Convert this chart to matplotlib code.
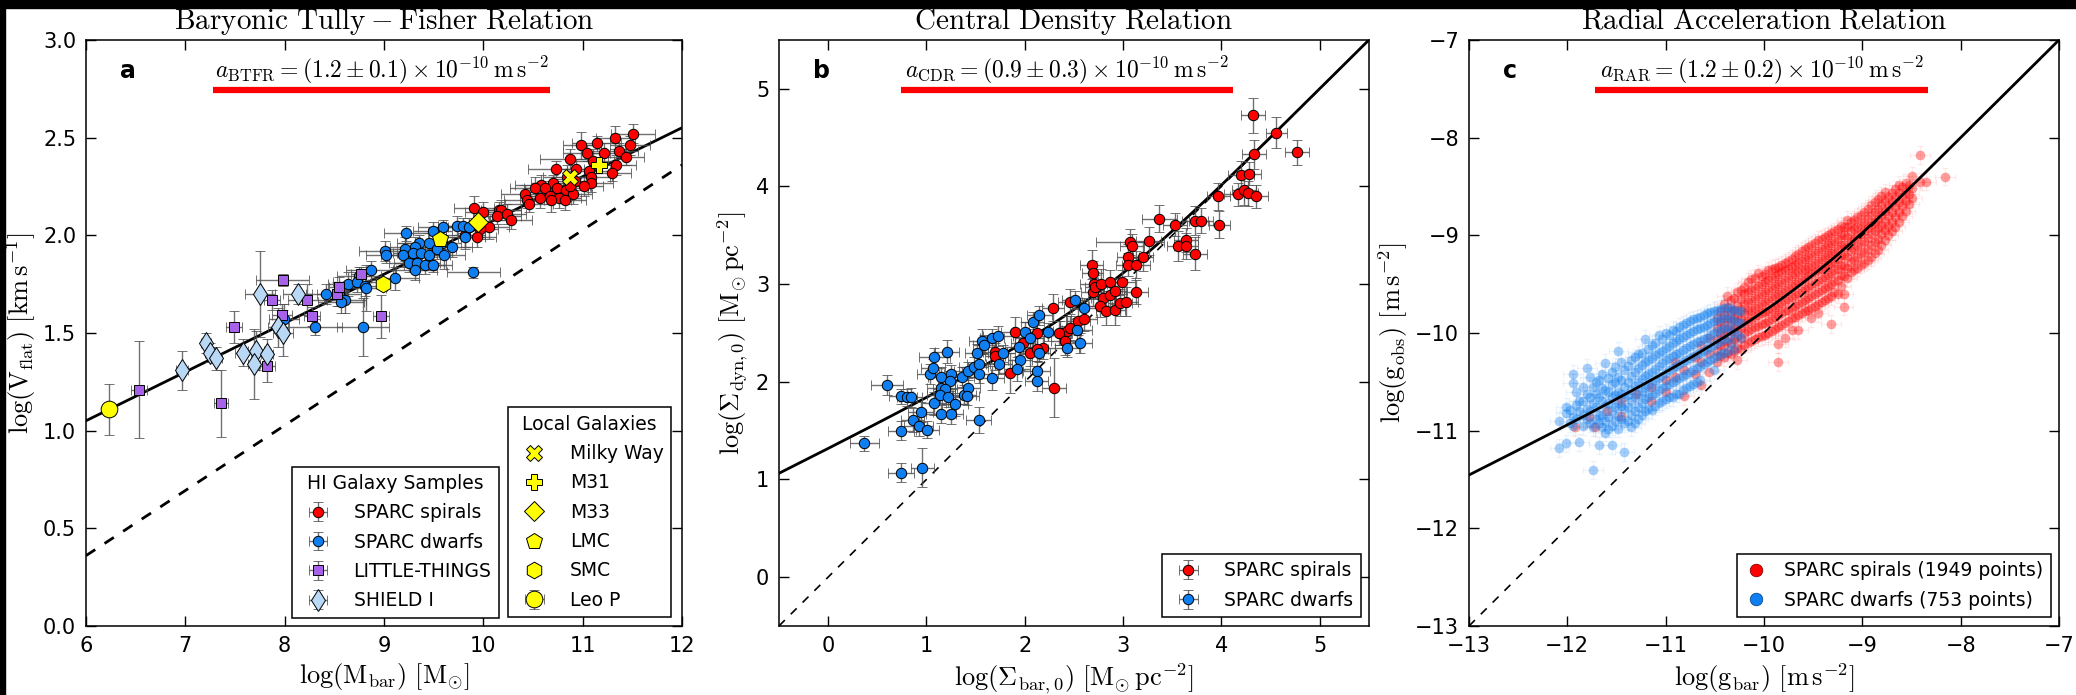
import numpy as np
import matplotlib
matplotlib.use("Agg")
import matplotlib.pyplot as plt
from matplotlib.lines import Line2D
from matplotlib.patches import Rectangle

plt.rcParams['mathtext.fontset'] = 'cm'
plt.rcParams['font.family'] = ['DejaVu Sans']
plt.rcParams['axes.unicode_minus'] = True

# ---------------- constants for the model curves ----------------
G_SI = 6.674e-11
MSUN = 1.989e30
PC = 3.0857e16
a0_btfr = 1.2e-10
a0_cdr = 0.9e-10
a0_rar = 1.2e-10

# ---------------- panel a: baryonic Tully-Fisher ----------------
spa_logm = [11.51, 11.33, 11.14, 10.98, 11.48, 11.04, 11.22, 11.37, 10.87, 11.10,
            11.44, 11.34, 10.73, 10.93, 11.06, 11.30, 10.84, 11.08, 10.92, 11.08,
            10.58, 10.70, 11.01, 10.52, 10.62, 10.74, 10.83, 10.42, 10.57, 10.67,
            10.76, 10.90, 10.44, 10.68, 10.82, 10.46, 10.87, 9.91, 10.00, 10.16,
            10.18, 10.24, 10.14, 10.28, 10.06, 9.97, 9.94, 9.82]
spa_logv = [2.52, 2.50, 2.47, 2.46, 2.46, 2.42, 2.42, 2.43, 2.39, 2.38,
            2.40, 2.36, 2.34, 2.34, 2.33, 2.32, 2.30, 2.30, 2.28, 2.27,
            2.26, 2.27, 2.25, 2.24, 2.24, 2.24, 2.23, 2.21, 2.19, 2.20,
            2.19, 2.21, 2.18, 2.18, 2.18, 2.16, 2.25, 2.14, 2.12, 2.13,
            2.13, 2.11, 2.10, 2.08, 2.04, 2.03, 1.99, 2.00]
spa_xerr = [0.22, 0.20, 0.25, 0.18, 0.20, 0.24, 0.21, 0.19, 0.30, 0.22,
            0.18, 0.20, 0.28, 0.20, 0.22, 0.19, 0.24, 0.20, 0.21, 0.23,
            0.26, 0.22, 0.20, 0.25, 0.21, 0.19, 0.22, 0.24, 0.20, 0.21,
            0.22, 0.19, 0.23, 0.20, 0.21, 0.24, 0.20, 0.20, 0.18, 0.22,
            0.20, 0.19, 0.24, 0.21, 0.20, 0.18, 0.19, 0.20]
spa_yerr = [0.05, 0.06, 0.04, 0.07, 0.05, 0.04, 0.05, 0.04, 0.05, 0.06,
            0.04, 0.05, 0.04, 0.05, 0.05, 0.04, 0.06, 0.05, 0.04, 0.05,
            0.05, 0.04, 0.05, 0.06, 0.04, 0.05, 0.04, 0.05, 0.05, 0.04,
            0.05, 0.05, 0.04, 0.06, 0.05, 0.04, 0.05, 0.06, 0.05, 0.04,
            0.05, 0.05, 0.04, 0.05, 0.06, 0.05, 0.05, 0.06]

dwa_logm = [9.22, 9.49, 9.59, 9.74, 9.80, 9.86, 9.82, 9.45, 9.58, 9.68,
            9.35, 9.31, 9.21, 9.01, 9.02, 9.19, 9.29, 9.37, 9.45, 9.53,
            9.60, 9.25, 9.33, 9.41, 9.49, 9.31, 9.90, 9.11, 8.87, 8.75,
            8.64, 8.73, 8.81, 8.82, 8.42, 8.55, 8.61, 8.57, 7.99, 8.31,
            8.79]
dwa_logv = [2.01, 2.02, 2.04, 2.05, 2.05, 2.04, 1.99, 1.96, 1.96, 1.94,
            1.96, 1.94, 1.93, 1.92, 1.90, 1.90, 1.91, 1.91, 1.90, 1.93,
            1.90, 1.86, 1.86, 1.85, 1.85, 1.82, 1.81, 1.78, 1.82, 1.79,
            1.75, 1.76, 1.74, 1.73, 1.70, 1.70, 1.67, 1.66, 1.57, 1.53,
            1.53]
dwa_xerr = [0.22, 0.20, 0.25, 0.20, 0.18, 0.22, 0.20, 0.24, 0.20, 0.21,
            0.22, 0.25, 0.20, 0.26, 0.20, 0.22, 0.20, 0.24, 0.21, 0.20,
            0.22, 0.20, 0.23, 0.21, 0.20, 0.22, 0.27, 0.24, 0.25, 0.22,
            0.20, 0.24, 0.22, 0.20, 0.20, 0.22, 0.21, 0.23, 0.15, 0.27,
            0.26]
dwa_yerr = [0.04, 0.05, 0.04, 0.05, 0.04, 0.05, 0.06, 0.05, 0.04, 0.05,
            0.04, 0.05, 0.06, 0.05, 0.04, 0.06, 0.05, 0.05, 0.04, 0.05,
            0.07, 0.05, 0.06, 0.05, 0.04, 0.05, 0.03, 0.06, 0.05, 0.05,
            0.06, 0.05, 0.05, 0.12, 0.05, 0.06, 0.07, 0.06, 0.08, 0.04,
            0.15]

lt_logm = [7.98, 7.87, 8.23, 7.97, 8.28, 8.53, 8.55, 8.77, 8.97, 7.49, 6.53, 7.82, 7.36]
lt_logv = [1.77, 1.67, 1.67, 1.59, 1.585, 1.70, 1.735, 1.80, 1.585, 1.53, 1.21, 1.33, 1.14]
lt_xerr = [0.27, 0.08, 0.20, 0.10, 0.08, 0.10, 0.10, 0.10, 0.08, 0.08, 0.08, 0.08, 0.07]
lt_yerr = [0.03, 0.05, 0.08, 0.06, 0.05, 0.06, 0.05, 0.04, 0.11, 0.08, 0.25, 0.08, 0.17]

sh_logm = [7.75, 8.13, 7.93, 7.98, 7.21, 7.25, 7.31, 6.97, 7.58, 7.71, 7.69, 7.82]
sh_logv = [1.70, 1.70, 1.53, 1.50, 1.45, 1.40, 1.37, 1.31, 1.40, 1.41, 1.34, 1.39]
sh_xerr = [0.15, 0.15, 0.10, 0.10, 0.05, 0.05, 0.06, 0.06, 0.08, 0.08, 0.06, 0.06]
sh_yerr = [0.22, 0.05, 0.10, 0.12, 0.05, 0.05, 0.06, 0.10, 0.07, 0.10, 0.18, 0.08]

local_names = ['Milky Way', 'M31', 'M33', 'LMC', 'SMC', 'Leo P']
local_logm = [10.87, 11.16, 9.95, 9.56, 8.99, 6.23]
local_logv = [2.30, 2.36, 2.07, 1.98, 1.75, 1.11]
leop_xerr = 0.05
leop_yerr = 0.13

btfr_dashed_x = [6.0, 12.0]
btfr_dashed_y = [0.36, 2.36]

# ---------------- panel b: central density relation ----------------
spb_x = [1.70, 1.70, 1.85, 1.90, 1.98, 2.05, 2.12, 2.19, 2.30, 2.29,
         2.36, 2.43, 2.46, 2.46, 2.54, 2.60, 2.68, 2.69, 2.70, 2.69,
         2.71, 2.78, 2.80, 2.77, 2.83, 2.87, 2.87, 2.92, 2.92, 2.97,
         2.99, 3.03, 3.05, 3.05, 3.13, 3.13, 3.20, 3.07, 3.09, 3.26,
         3.64, 3.56, 3.64, 3.73, 3.37, 3.53, 3.73, 3.79, 3.98, 3.97,
         4.17, 4.23, 4.27, 4.35, 4.20, 4.28, 4.33, 4.77, 4.56, 4.32,
         2.35, 2.41, 2.12]
spb_y = [2.31, 2.26, 2.09, 2.51, 2.40, 2.29, 2.50, 2.35, 1.94, 2.76,
         2.50, 2.52, 2.82, 2.55, 2.62, 2.64, 3.20, 3.11, 3.00, 2.92,
         2.97, 3.00, 2.86, 2.78, 2.72, 3.02, 2.89, 2.93, 2.74, 2.81,
         3.02, 2.82, 3.28, 3.20, 3.20, 2.92, 3.28, 3.43, 3.39, 3.44,
         3.45, 3.39, 3.39, 3.31, 3.67, 3.61, 3.65, 3.65, 3.61, 3.90,
         3.92, 3.96, 3.93, 3.90, 4.12, 4.13, 4.33, 4.35, 4.55, 4.73,
         2.50, 2.42, 2.34]
spb_xerr = [0.12, 0.10, 0.12, 0.14, 0.12, 0.10, 0.13, 0.12, 0.12, 0.11,
            0.12, 0.14, 0.12, 0.10, 0.12, 0.13, 0.12, 0.11, 0.14, 0.12,
            0.10, 0.12, 0.13, 0.12, 0.11, 0.12, 0.14, 0.12, 0.10, 0.12,
            0.13, 0.12, 0.11, 0.12, 0.14, 0.12, 0.10, 0.35, 0.12, 0.13,
            0.12, 0.11, 0.12, 0.12, 0.18, 0.12, 0.13, 0.12, 0.11, 0.12,
            0.14, 0.12, 0.10, 0.12, 0.13, 0.12, 0.12, 0.12, 0.11, 0.12,
            0.12, 0.14, 0.12]
spb_yerr = [0.12, 0.14, 0.20, 0.15, 0.12, 0.13, 0.15, 0.12, 0.30, 0.14,
            0.12, 0.15, 0.13, 0.12, 0.14, 0.12, 0.15, 0.13, 0.12, 0.14,
            0.12, 0.15, 0.13, 0.12, 0.14, 0.12, 0.15, 0.13, 0.16, 0.14,
            0.12, 0.15, 0.13, 0.12, 0.14, 0.12, 0.15, 0.13, 0.12, 0.14,
            0.12, 0.15, 0.13, 0.17, 0.14, 0.12, 0.15, 0.13, 0.14, 0.14,
            0.12, 0.15, 0.13, 0.12, 0.14, 0.12, 0.15, 0.13, 0.16, 0.18,
            0.12, 0.15, 0.13]

dwb_x = [0.37, 0.74, 0.96, 0.60, 0.74, 0.80, 0.84, 0.74, 0.86, 0.92,
         1.01, 0.94, 1.08, 1.04, 1.07, 1.08, 1.21, 1.15, 1.25, 1.24,
         1.15, 1.19, 1.14, 1.22, 1.15, 1.25, 1.29, 1.36, 1.42, 1.38,
         1.42, 1.41, 1.48, 1.53, 1.53, 1.51, 1.57, 1.59, 1.53, 1.67,
         1.73, 1.67, 1.74, 1.78, 1.94, 1.95, 1.92, 2.00, 2.05, 2.08,
         2.15, 2.14, 2.12, 2.12, 2.24, 2.43, 2.53, 2.56, 2.51, 2.60]
dwb_y = [1.37, 1.07, 1.12, 1.97, 1.85, 1.84, 1.84, 1.50, 1.61, 1.55,
         1.51, 1.69, 1.78, 2.08, 2.14, 2.25, 2.31, 2.05, 2.08, 2.01,
         1.94, 1.93, 1.87, 1.84, 1.67, 1.67, 1.77, 2.05, 2.11, 1.87,
         1.94, 1.85, 2.15, 2.18, 2.08, 2.29, 2.42, 2.38, 1.61, 2.45,
         2.47, 2.04, 2.18, 2.29, 2.36, 2.22, 2.13, 2.51, 2.45, 2.61,
         2.68, 2.29, 2.11, 2.01, 2.51, 2.35, 2.53, 2.40, 2.84, 2.76]
dwb_xerr = [0.15, 0.13, 0.12, 0.16, 0.12, 0.10, 0.12, 0.13, 0.12, 0.15,
            0.12, 0.13, 0.12, 0.14, 0.12, 0.16, 0.12, 0.13, 0.12, 0.12,
            0.14, 0.12, 0.13, 0.12, 0.15, 0.12, 0.13, 0.12, 0.14, 0.12,
            0.13, 0.12, 0.15, 0.12, 0.13, 0.12, 0.14, 0.12, 0.13, 0.12,
            0.15, 0.12, 0.13, 0.12, 0.14, 0.12, 0.13, 0.12, 0.15, 0.12,
            0.13, 0.12, 0.14, 0.12, 0.13, 0.12, 0.15, 0.12, 0.13, 0.12]
dwb_yerr = [0.08, 0.10, 0.20, 0.10, 0.08, 0.09, 0.10, 0.10, 0.12, 0.10,
            0.09, 0.10, 0.12, 0.10, 0.09, 0.10, 0.12, 0.10, 0.09, 0.10,
            0.10, 0.09, 0.10, 0.10, 0.09, 0.10, 0.12, 0.10, 0.09, 0.10,
            0.10, 0.09, 0.10, 0.10, 0.09, 0.10, 0.12, 0.10, 0.13, 0.09,
            0.10, 0.12, 0.10, 0.09, 0.10, 0.10, 0.12, 0.10, 0.09, 0.10,
            0.10, 0.09, 0.10, 0.10, 0.09, 0.10, 0.12, 0.10, 0.09, 0.10]

# ---------------- panel c: radial acceleration relation ----------------
# spirals, listed column by column: g_bar of the column, then g_obs values in it
rar_sp_gbar = [-11.92, -11.78, -11.72, -11.60, -11.45, -11.30, -11.15, -11.00, -10.90,
               -10.81, -10.70, -10.64, -10.56, -10.48, -10.41, -10.34, -10.27, -10.20,
               -10.13, -10.06, -9.99, -9.92, -9.86, -9.79, -9.72, -9.65, -9.58, -9.52,
               -9.45, -9.38, -9.32, -9.25, -9.19, -9.12, -9.05, -8.98, -8.91, -8.84,
               -8.77, -8.70, -8.63, -8.56, -8.49, -8.41, -8.35, -8.16]
rar_sp_gobs = [
    [-10.96], [-10.86], [-10.96], [-10.80], [-10.85, -10.70], [-10.62],
    [-10.70, -10.55], [-10.48, -10.60], [-10.45, -10.30],
    [-10.65, -10.38], [-10.42, -10.25], [-10.53, -10.30, -10.12],
    [-10.40, -10.22, -10.05],
    [-10.30, -10.18, -10.06, -9.95, -9.85],
    [-10.25, -10.13, -10.02, -9.92, -9.82, -9.70],
    [-10.22, -10.10, -9.98, -9.88, -9.78, -9.66],
    [-10.28, -10.15, -10.04, -9.93, -9.83, -9.72, -9.58],
    [-10.12, -10.00, -9.90, -9.80, -9.70, -9.60, -9.53],
    [-10.08, -9.96, -9.86, -9.76, -9.66, -9.56, -9.45],
    [-10.04, -9.93, -9.82, -9.72, -9.62, -9.52, -9.39],
    [-10.02, -9.90, -9.79, -9.68, -9.58, -9.48, -9.40],
    [-9.98, -9.86, -9.75, -9.64, -9.54, -9.44, -9.34],
    [-10.30, -10.11, -9.94, -9.82, -9.71, -9.60, -9.50, -9.40, -9.32],
    [-10.05, -9.90, -9.78, -9.67, -9.56, -9.46, -9.36, -9.28],
    [-9.97, -9.85, -9.74, -9.63, -9.52, -9.42, -9.32, -9.24],
    [-9.97, -9.82, -9.70, -9.59, -9.48, -9.38, -9.28, -9.19],
    [-9.78, -9.66, -9.55, -9.44, -9.34, -9.24, -9.14],
    [-9.85, -9.74, -9.62, -9.51, -9.40, -9.30, -9.20, -9.10],
    [-9.80, -9.70, -9.58, -9.47, -9.36, -9.26, -9.16, -9.05],
    [-9.66, -9.54, -9.43, -9.32, -9.22, -9.12, -9.02],
    [-9.91, -9.62, -9.50, -9.39, -9.28, -9.18, -9.08, -8.98],
    [-9.60, -9.46, -9.35, -9.24, -9.14, -9.04, -8.94],
    [-9.73, -9.60, -9.42, -9.31, -9.20, -9.10, -9.00, -8.91],
    [-9.38, -9.27, -9.16, -9.06, -8.96, -8.86],
    [-9.33, -9.22, -9.11, -9.01, -8.91, -8.81],
    [-9.28, -9.17, -9.06, -8.96, -8.86, -8.76],
    [-9.22, -9.10, -8.99, -8.89, -8.79, -8.69],
    [-9.15, -9.04, -8.93, -8.83, -8.73, -8.63],
    [-9.05, -8.95, -8.85, -8.75, -8.65, -8.56],
    [-8.96, -8.86, -8.76, -8.66, -8.57],
    [-8.86, -8.76, -8.66, -8.57, -8.48],
    [-8.75, -8.65, -8.56, -8.46],
    [-8.62, -8.52, -8.39],
    [-8.45, -8.18],
    [-8.45],
    [-8.40],
]
rar_sp_gbar_2 = [-10.445, -10.375, -10.305, -10.235, -10.165, -10.095, -10.025, -9.955,
                 -9.89, -9.825, -9.755, -9.685, -9.615, -9.55, -9.485, -9.415, -9.35,
                 -9.285, -9.22, -9.155, -9.085, -9.015, -8.945, -8.875, -8.805, -8.735,
                 -8.665, -8.595, -8.525]
rar_sp_gobs_2 = [
    [-10.24, -10.12, -10.00, -9.89, -9.78],
    [-10.20, -10.08, -9.96, -9.85, -9.74, -9.62],
    [-10.18, -10.06, -9.96, -9.86, -9.76, -9.64],
    [-10.16, -10.05, -9.95, -9.85, -9.75, -9.65, -9.56],
    [-10.10, -9.98, -9.88, -9.78, -9.68, -9.58, -9.48],
    [-10.06, -9.94, -9.84, -9.74, -9.64, -9.54, -9.44],
    [-10.03, -9.91, -9.80, -9.70, -9.60, -9.50, -9.42],
    [-10.00, -9.88, -9.77, -9.66, -9.56, -9.46, -9.36],
    [-9.96, -9.84, -9.73, -9.62, -9.52, -9.42, -9.33],
    [-9.92, -9.80, -9.69, -9.58, -9.48, -9.38, -9.30],
    [-9.88, -9.76, -9.65, -9.54, -9.44, -9.34, -9.26],
    [-9.84, -9.72, -9.61, -9.50, -9.40, -9.30, -9.21],
    [-9.80, -9.68, -9.57, -9.46, -9.36, -9.26, -9.16],
    [-9.76, -9.64, -9.53, -9.42, -9.32, -9.22, -9.12],
    [-9.72, -9.60, -9.49, -9.38, -9.28, -9.18, -9.08],
    [-9.68, -9.56, -9.45, -9.34, -9.24, -9.14, -9.04],
    [-9.64, -9.52, -9.41, -9.30, -9.20, -9.10, -9.00],
    [-9.58, -9.47, -9.36, -9.26, -9.16, -9.06, -8.96],
    [-9.52, -9.41, -9.30, -9.20, -9.10, -9.00, -8.90],
    [-9.44, -9.33, -9.22, -9.12, -9.02, -8.92, -8.84],
    [-9.36, -9.25, -9.14, -9.04, -8.94, -8.84],
    [-9.30, -9.19, -9.09, -8.99, -8.89, -8.79],
    [-9.25, -9.14, -9.03, -8.93, -8.83, -8.73],
    [-9.18, -9.07, -8.96, -8.86, -8.76, -8.66],
    [-9.10, -8.99, -8.89, -8.79, -8.69, -8.60],
    [-9.00, -8.90, -8.80, -8.70, -8.61],
    [-8.91, -8.81, -8.71, -8.62, -8.53],
    [-8.80, -8.70, -8.61, -8.51],
    [-8.68, -8.58, -8.48],
]
# dwarfs, same layout
rar_dw_gbar = [-12.08, -12.01, -11.94, -11.88, -11.80, -11.74, -11.68, -11.62, -11.55,
               -11.48, -11.42, -11.35, -11.28, -11.21, -11.14, -11.07, -11.00, -10.93,
               -10.86, -10.79, -10.72, -10.65, -10.58, -10.51, -10.44, -10.37, -10.30,
               -10.23]
rar_dw_gobs = [
    [-10.90, -11.18],
    [-10.82, -11.13, -10.76],
    [-10.42, -10.51, -10.86, -10.95],
    [-10.80, -10.70, -11.12],
    [-10.36, -10.78, -10.88, -10.62],
    [-10.72, -10.96, -10.55, -11.40],
    [-10.66, -10.84, -10.48, -11.15, -10.92],
    [-10.31, -10.58, -10.75, -10.90, -11.02],
    [-10.52, -10.66, -10.80, -10.95, -11.15, -10.40],
    [-10.18, -10.45, -10.60, -10.72, -10.85, -10.98],
    [-10.38, -10.55, -10.66, -10.78, -10.92, -11.22],
    [-10.28, -10.44, -10.58, -10.70, -10.84, -10.96],
    [-10.22, -10.36, -10.50, -10.62, -10.76, -10.88],
    [-10.06, -10.30, -10.44, -10.56, -10.68, -10.80],
    [-10.12, -10.26, -10.40, -10.52, -10.64, -10.79],
    [-10.02, -10.20, -10.34, -10.46, -10.58, -10.72],
    [-10.00, -10.15, -10.28, -10.41, -10.54, -10.68],
    [-9.97, -10.10, -10.24, -10.36, -10.50, -10.66],
    [-9.94, -10.06, -10.20, -10.32, -10.46, -10.62],
    [-9.90, -10.02, -10.15, -10.28, -10.42, -10.56],
    [-9.86, -9.98, -10.11, -10.24, -10.38, -10.52],
    [-9.84, -9.95, -10.08, -10.20, -10.34, -10.48],
    [-9.80, -9.92, -10.05, -10.16, -10.30],
    [-9.77, -9.88, -10.00, -10.12, -10.26, -10.38],
    [-9.75, -9.86, -9.97, -10.08, -10.22],
    [-9.73, -9.83, -9.94, -10.05, -10.18],
    [-9.76, -9.88, -10.00, -10.16],
    [-9.78, -9.90, -10.05],
]
rar_dw_gbar_2 = [-11.975, -11.91, -11.84, -11.77, -11.71, -11.65, -11.585, -11.515,
                 -11.45, -11.385, -11.315, -11.245, -11.175, -11.105, -11.035, -10.965,
                 -10.895, -10.825, -10.755, -10.685, -10.615, -10.545, -10.475, -10.405,
                 -10.335, -10.265]
rar_dw_gobs_2 = [
    [-10.79, -10.92],
    [-10.74, -10.88, -10.60],
    [-10.70, -10.84, -10.95, -10.55],
    [-10.66, -10.80, -10.92, -10.45],
    [-10.62, -10.76, -10.88, -10.50],
    [-10.42, -10.56, -10.70, -10.84, -10.96],
    [-10.46, -10.60, -10.72, -10.86, -10.98],
    [-10.35, -10.50, -10.63, -10.76, -10.90],
    [-10.30, -10.48, -10.62, -10.75, -10.88],
    [-10.34, -10.50, -10.63, -10.76, -10.90],
    [-10.25, -10.40, -10.54, -10.66, -10.80, -10.92],
    [-10.20, -10.33, -10.47, -10.59, -10.72, -10.84],
    [-10.16, -10.28, -10.42, -10.54, -10.66, -10.78],
    [-10.10, -10.23, -10.37, -10.49, -10.61, -10.75],
    [-10.06, -10.18, -10.31, -10.44, -10.56, -10.70],
    [-10.02, -10.13, -10.26, -10.38, -10.52, -10.66],
    [-9.98, -10.08, -10.22, -10.34, -10.48, -10.62],
    [-9.92, -10.04, -10.17, -10.30, -10.44, -10.58],
    [-9.88, -10.00, -10.13, -10.26, -10.40, -10.54],
    [-9.85, -9.96, -10.09, -10.22, -10.36, -10.50],
    [-9.82, -9.94, -10.06, -10.18, -10.32],
    [-9.79, -9.90, -10.02, -10.14, -10.28],
    [-9.76, -9.87, -9.98, -10.10, -10.24],
    [-9.74, -9.85, -9.95, -10.06, -10.20],
    [-9.75, -9.86, -9.97, -10.10],
    [-9.77, -9.89, -10.02],
]
rar_xerr = 0.10
rar_yerr = 0.09

# ---------------- colours ----------------
C_RED = '#ff0000'
C_BLUE = '#0f7ef0'
C_PURPLE = '#a862ea'
C_SHIELD = '#b9d8f5'
C_YELLOW = '#ffff00'
EBAR = (0.3, 0.3, 0.3, 0.8)

fig = plt.figure(figsize=(20.76, 6.95), dpi=100)
fig.patch.set_facecolor('white')

AX_B, AX_H = 0.0993, 0.8432
ax_a = fig.add_axes([0.0414, AX_B, 0.2871, AX_H])
ax_b = fig.add_axes([0.3752, AX_B, 0.2842, AX_H])
ax_c = fig.add_axes([0.7076, AX_B, 0.2842, AX_H])

TICK_FS = 15
LABEL_FS = 19
TITLE_FS = 21
NOTE_FS = 17
LEG_FS = 13.5

for ax in (ax_a, ax_b, ax_c):
    ax.tick_params(direction='in', top=True, right=True, length=7, width=1,
                   labelsize=TICK_FS, pad=7)
    for sp in ax.spines.values():
        sp.set_linewidth(1.1)


def ebar(ax, x, y, xe, ye, face, marker, ms, label, z=3):
    return ax.errorbar(x, y, xerr=xe, yerr=ye, fmt=marker, mfc=face, mec='k',
                       mew=0.7, ms=ms, ecolor=EBAR, elinewidth=1.0, capsize=3.5,
                       capthick=1.0, label=label, zorder=z)


def headline(ax, letter, text, x0, x1):
    ax.text(0.057, 0.947, letter, transform=ax.transAxes, fontsize=17,
            fontweight='bold', va='center', ha='left')
    ax.text((x0 + x1) / 2, 0.948, text, transform=ax.transAxes, fontsize=NOTE_FS,
            va='center', ha='center')
    ax.plot([x0, x1], [0.915, 0.915], transform=ax.transAxes, color=C_RED,
            lw=4.5, solid_capstyle='butt', zorder=6)


# ---- panel a ----
lm = np.linspace(6, 12, 50)
logv_btfr = 0.25 * (np.log10(G_SI * a0_btfr) + lm + np.log10(MSUN)) - 3.0
ax_a.plot(lm, logv_btfr, color='k', lw=2, zorder=2)
ax_a.plot(btfr_dashed_x, btfr_dashed_y, color='k', lw=2, ls=(0, (4, 4)), zorder=2)

h_sp = ebar(ax_a, spa_logm, spa_logv, spa_xerr, spa_yerr, C_RED, 'o', 7.5, 'SPARC spirals')
h_dw = ebar(ax_a, dwa_logm, dwa_logv, dwa_xerr, dwa_yerr, C_BLUE, 'o', 7.5, 'SPARC dwarfs')
h_lt = ebar(ax_a, lt_logm, lt_logv, lt_xerr, lt_yerr, C_PURPLE, 's', 7.5, 'LITTLE-THINGS')
h_sh = ebar(ax_a, sh_logm, sh_logv, sh_xerr, sh_yerr, C_SHIELD, 'd', 11.5, 'SHIELD I')

local_markers = ['X', 'P', 'D', 'p', 'h', 'o']
local_sizes = [11, 12, 10, 12, 12, 12]
local_handles = []
for name, m, s, x, y in zip(local_names, local_markers, local_sizes, local_logm, local_logv):
    if name == 'Leo P':
        h = ebar(ax_a, [x], [y], leop_xerr, leop_yerr, C_YELLOW, m, s, name, z=5)
    else:
        ax_a.plot([x], [y], m, mfc=C_YELLOW, mec='k', mew=0.7, ms=s, zorder=5)
        h = Line2D([], [], ls='none', marker=m, mfc=C_YELLOW, mec='k', mew=0.7, ms=s)
    local_handles.append(h)

ax_a.set_xlim(6, 12)
ax_a.set_ylim(0, 3)
ax_a.set_xticks(range(6, 13))
ax_a.set_yticks(np.arange(0, 3.01, 0.5))
ax_a.set_yticklabels(['0.0', '0.5', '1.0', '1.5', '2.0', '2.5', '3.0'])
ax_a.set_xlabel(r'$\log(\mathrm{M_{bar}})\ [\mathrm{M_{\odot}}]$', fontsize=LABEL_FS)
ax_a.set_ylabel(r'$\log(\mathrm{V_{flat}})\ [\mathrm{km\,s^{-1}}]$', fontsize=LABEL_FS)
ax_a.set_title(r'$\mathrm{Baryonic\ Tully-Fisher\ Relation}$', fontsize=TITLE_FS, pad=8)
headline(ax_a, 'a', r'$a_{\mathrm{BTFR}} = (1.2 \pm 0.1) \times 10^{-10}\,\mathrm{m\,s^{-2}}$',
         0.213, 0.779)

leg_kw = dict(fontsize=LEG_FS, title_fontsize=LEG_FS, frameon=True, fancybox=False,
              edgecolor='k', framealpha=1, numpoints=1, borderaxespad=0,
              labelspacing=0.55, handletextpad=0.9)
leg1 = ax_a.legend([h_sp, h_dw, h_lt, h_sh],
                   ['SPARC spirals', 'SPARC dwarfs', 'LITTLE-THINGS', 'SHIELD I'],
                   title='HI Galaxy Samples', loc='lower right',
                   bbox_to_anchor=(0.693, 0.014), **leg_kw)
leg1.get_frame().set_linewidth(1.1)
ax_a.add_artist(leg1)
leg2 = ax_a.legend(local_handles, local_names, title='Local Galaxies', loc='lower right',
                   bbox_to_anchor=(0.982, 0.015), **leg_kw)
leg2.get_frame().set_linewidth(1.1)

# ---- panel b ----
sigma_m = a0_cdr / (2 * np.pi * G_SI) / (MSUN / PC ** 2)
u = np.linspace(0, 60, 60001)
integrand = np.where(u > 0, 2 * u / -np.expm1(-np.maximum(u, 1e-12)), 2.0)
s_cum = np.concatenate([[0], np.cumsum(0.5 * (integrand[1:] + integrand[:-1]) * np.diff(u))])
lsb = np.linspace(-0.5, 5.5, 400)
s_val = np.interp(np.sqrt(10 ** lsb / sigma_m), u, s_cum)
ax_b.plot(lsb, np.log10(sigma_m * s_val), color='k', lw=2, zorder=2)
ax_b.plot([-0.5, 5.5], [-0.5, 5.5], color='k', lw=1.2, ls=(0, (5, 5)), zorder=2)

hb_sp = ebar(ax_b, spb_x, spb_y, spb_xerr, spb_yerr, C_RED, 'o', 7.5, 'SPARC spirals')
hb_dw = ebar(ax_b, dwb_x, dwb_y, dwb_xerr, dwb_yerr, C_BLUE, 'o', 7.5, 'SPARC dwarfs')

ax_b.set_xlim(-0.5, 5.5)
ax_b.set_ylim(-0.5, 5.5)
ax_b.set_xticks(range(0, 6))
ax_b.set_yticks(range(0, 6))
ax_b.set_xlabel(r'$\log(\Sigma_{\mathrm{bar,0}})\ [\mathrm{M_{\odot}\,pc^{-2}}]$', fontsize=LABEL_FS)
ax_b.set_ylabel(r'$\log(\Sigma_{\mathrm{dyn,0}})\ [\mathrm{M_{\odot}\,pc^{-2}}]$', fontsize=LABEL_FS)
ax_b.set_title(r'$\mathrm{Central\ Density\ Relation}$', fontsize=TITLE_FS, pad=8)
headline(ax_b, 'b', r'$a_{\mathrm{CDR}} = (0.9 \pm 0.3) \times 10^{-10}\,\mathrm{m\,s^{-2}}$',
         0.207, 0.769)
legb = ax_b.legend([hb_sp, hb_dw], ['SPARC spirals', 'SPARC dwarfs'], loc='lower right',
                   bbox_to_anchor=(0.986, 0.015), **leg_kw)
legb.get_frame().set_linewidth(1.1)

# ---- panel c ----
gb = np.linspace(-13, -7, 400)
gbar_lin = 10 ** gb
gobs = gbar_lin / -np.expm1(-np.sqrt(gbar_lin / a0_rar))
ax_c.plot(gb, np.log10(gobs), color='k', lw=2, zorder=4)
ax_c.plot([-13, -7], [-13, -7], color='k', lw=1.2, ls=(0, (5, 5)), zorder=4)


def expand(xcols, ycols):
    xs, ys = [], []
    for xv, yl in zip(xcols, ycols):
        xs.extend([xv] * len(yl))
        ys.extend(yl)
    return np.array(xs), np.array(ys)


rs_x, rs_y = expand(rar_sp_gbar + rar_sp_gbar_2, rar_sp_gobs + rar_sp_gobs_2)
rd_x, rd_y = expand(rar_dw_gbar + rar_dw_gbar_2, rar_dw_gobs + rar_dw_gobs_2)
for xs, ys, col in ((rs_x, rs_y, C_RED), (rd_x, rd_y, C_BLUE)):
    ax_c.errorbar(xs, ys, xerr=rar_xerr, yerr=rar_yerr, fmt='none', ecolor=col,
                  elinewidth=0.8, capsize=2.5, alpha=0.08, zorder=2)
    ax_c.plot(xs, ys, 'o', color=col, ms=7, mec='none', alpha=0.38, zorder=3)

ax_c.set_xlim(-13, -7)
ax_c.set_ylim(-13, -7)
ax_c.set_xticks(range(-13, -6))
ax_c.set_yticks(range(-13, -6))
ax_c.set_xlabel(r'$\log(\mathrm{g_{bar}})\ [\mathrm{m\,s^{-2}}]$', fontsize=LABEL_FS)
ax_c.set_ylabel(r'$\log(\mathrm{g_{obs}})\ [\mathrm{m\,s^{-2}}]$', fontsize=LABEL_FS)
ax_c.set_title(r'$\mathrm{Radial\ Acceleration\ Relation}$', fontsize=TITLE_FS, pad=8)
headline(ax_c, 'c', r'$a_{\mathrm{RAR}} = (1.2 \pm 0.2) \times 10^{-10}\,\mathrm{m\,s^{-2}}$',
         0.214, 0.778)
hc = [Line2D([], [], ls='none', marker='o', mfc=C_RED, mec='#880000', mew=0.6, ms=9),
      Line2D([], [], ls='none', marker='o', mfc=C_BLUE, mec='#084a8c', mew=0.6, ms=9)]
legc = ax_c.legend(hc, ['SPARC spirals (1949 points)', 'SPARC dwarfs (753 points)'],
                   loc='lower right', bbox_to_anchor=(0.986, 0.015), handlelength=1.2, **leg_kw)
legc.get_frame().set_linewidth(1.1)

# dark frame along the top and left edges of the canvas
fig.patches.append(Rectangle((0, 1 - 8 / 695), 1, 8 / 695, transform=fig.transFigure,
                             color='black', zorder=10))
fig.patches.append(Rectangle((0, 0), 5 / 2076, 1, transform=fig.transFigure,
                             color='black', zorder=10))

fig.savefig('out.png', dpi=100, facecolor='white')
